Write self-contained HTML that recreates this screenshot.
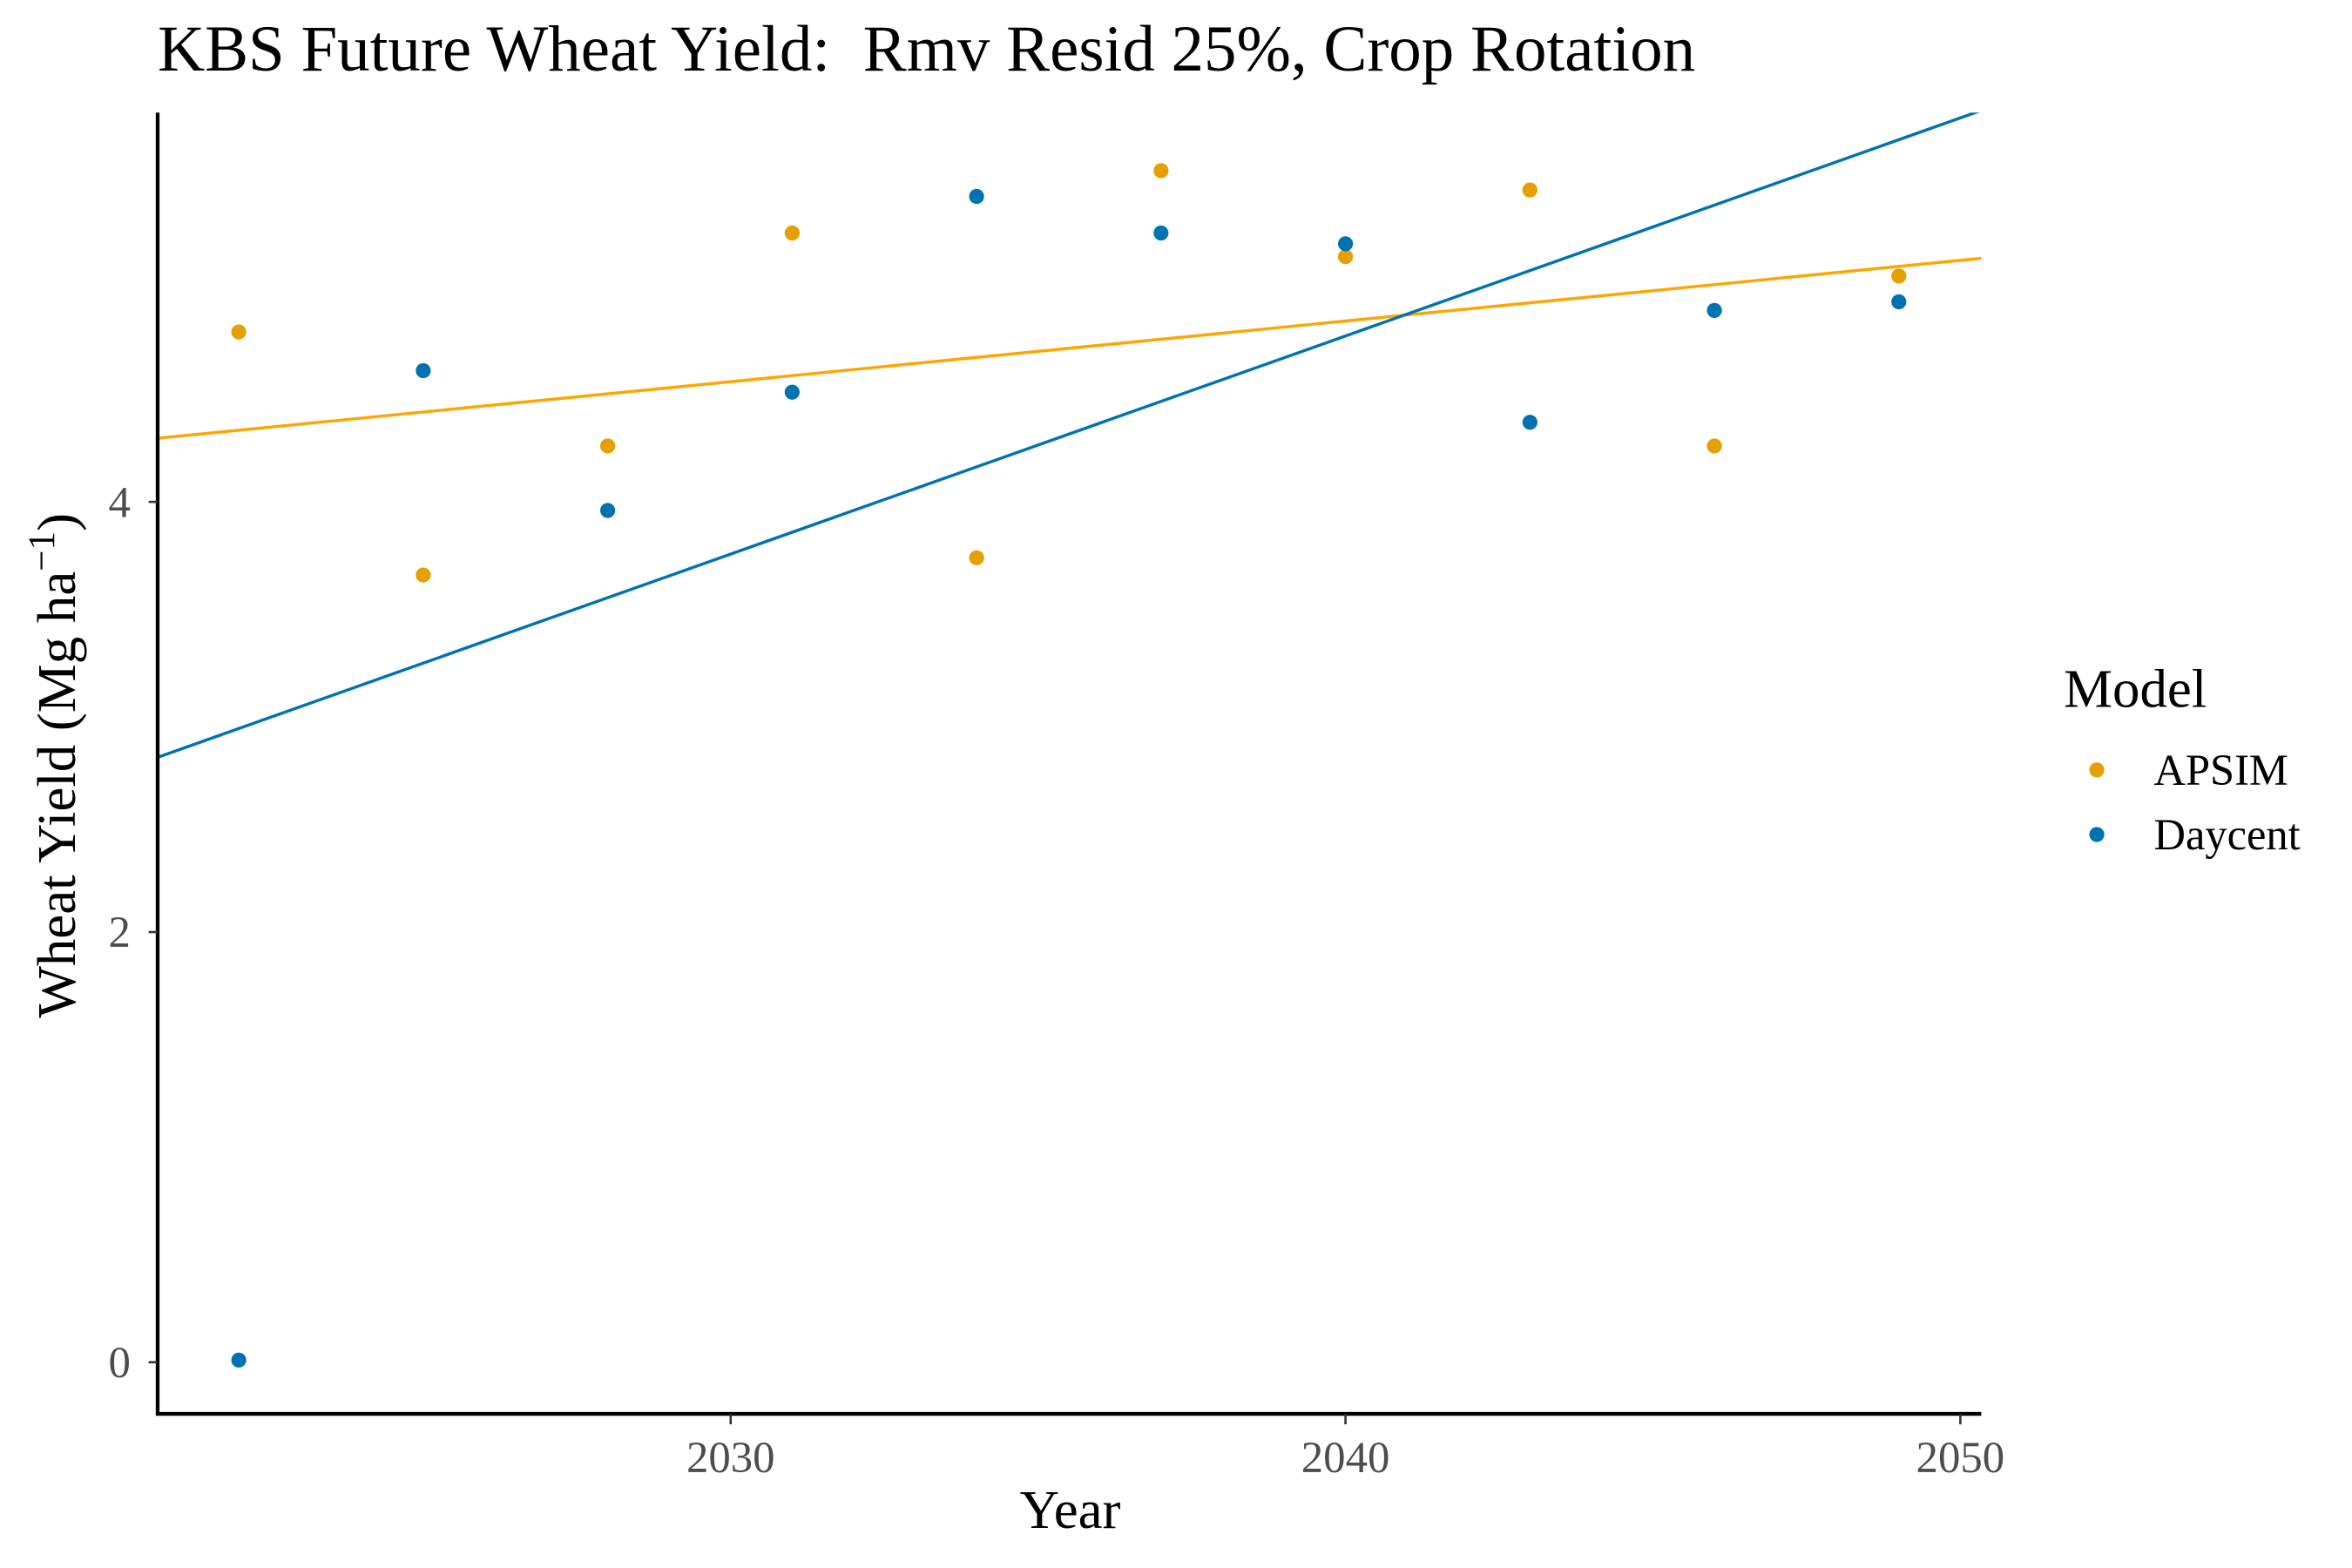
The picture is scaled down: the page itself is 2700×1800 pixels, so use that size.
<!DOCTYPE html>
<html><head><meta charset="utf-8"><style>html,body{margin:0;padding:0;background:#fff}svg{display:block}text{font-family:"Liberation Serif",serif}</style></head>
<body>
<svg id="chart" width="2700" height="1800" viewBox="0 0 1567 1044.7" xmlns="http://www.w3.org/2000/svg">
<text x="105" y="47" font-size="43.5" xml:space="preserve">KBS Future Wheat Yield:  Rmv Resid 25%, Crop Rotation</text>
<g id="plot"></g>
<text x="713" y="1018" font-size="36.5" text-anchor="middle">Year</text>
<text transform="translate(50,510) rotate(-90)" font-size="36.5" text-anchor="middle">Wheat Yield (Mg ha<tspan dy="-14" font-size="25">−1</tspan><tspan dy="14">)</tspan></text>
<g>
<text x="1375" y="471" font-size="36.5">Model</text>
<circle cx="1397" cy="513" r="5" fill="#E69F00"/>
<text x="1435" y="523" font-size="29.3">APSIM</text>
<circle cx="1397" cy="556" r="5" fill="#0072B2"/>
<text x="1435" y="566" font-size="29.3">Daycent</text>
</g>
</svg>
<script>
const years = [2022,2025,2028,2031,2034,2037,2040,2043,2046,2049];
const apsim = [4.79,3.66,4.26,5.25,3.74,5.54,5.14,5.45,4.26,5.05];
const daycent = [0.01,4.61,3.96,4.51,5.42,5.25,5.20,4.37,4.89,4.93];
const xTicks = [2030,2040,2050];
const yTicks = [0,2,4];

const L=105,R=1320,T=75,B=942;
const xMin=2020.68,xMax=2050.34,yMin=-0.24,yMax=5.81;
const xs=v=>L+(v-xMin)/(xMax-xMin)*(R-L);
const ys=v=>B-(v-yMin)/(yMax-yMin)*(B-T);
const NS="http://www.w3.org/2000/svg";
const g=document.getElementById('plot');
function mk(tag,attrs){const e=document.createElementNS(NS,tag);for(const k in attrs)e.setAttribute(k,attrs[k]);g.appendChild(e);return e;}

const defs=mk('defs',{});
const cp=document.createElementNS(NS,'clipPath');cp.setAttribute('id','clip');
const cr=document.createElementNS(NS,'rect');cr.setAttribute('x',L);cr.setAttribute('y',T);cr.setAttribute('width',R-L);cr.setAttribute('height',B-T);
cp.appendChild(cr);defs.appendChild(cp);

function fit(x,y){const n=x.length;const mx=x.reduce((a,b)=>a+b)/n,my=y.reduce((a,b)=>a+b)/n;let sxy=0,sxx=0;for(let i=0;i<n;i++){sxy+=(x[i]-mx)*(y[i]-my);sxx+=(x[i]-mx)**2;}const b=sxy/sxx;return [my-b*mx,b];}

function series(vals,ptColor,lineColor,name){
  const [a,b]=fit(years,vals);
  const ln=mk('line',{x1:xs(xMin),y1:ys(a+b*xMin),x2:xs(xMax),y2:ys(a+b*xMax),stroke:lineColor,'stroke-width':2,'clip-path':'url(#clip)'});
  
  
  vals.forEach((v,i)=>{
    const c=mk('circle',{cx:xs(years[i]),cy:ys(v),r:5,fill:ptColor});
    
    
  });
}
series(apsim,'#E69F00','#FFA500','apsim');
series(daycent,'#0072B2','#0072B2','daycent');

const ya=mk('line',{x1:L,y1:T,x2:L,y2:B+1,stroke:'#000','stroke-width':2.5});


const xa=mk('line',{x1:L-1,y1:B,x2:R,y2:B,stroke:'#000','stroke-width':2.5});



xTicks.forEach(t=>{
  const tk=mk('line',{x1:xs(t),y1:B,x2:xs(t),y2:B+7,stroke:'#333','stroke-width':1.5});
  
  
  const tx=mk('text',{x:xs(t),y:B+39,'font-size':29.5,fill:'#4d4d4d','text-anchor':'middle'});
  tx.textContent=t;
  
  
});
yTicks.forEach(t=>{
  const tk=mk('line',{x1:L-6,y1:ys(t),x2:L,y2:ys(t),stroke:'#333','stroke-width':1.5});
  
  
  const tx=mk('text',{x:L-18,y:ys(t)+10,'font-size':29.5,fill:'#4d4d4d','text-anchor':'end'});
  tx.textContent=t;
  
  
});
</script>
</body></html>
